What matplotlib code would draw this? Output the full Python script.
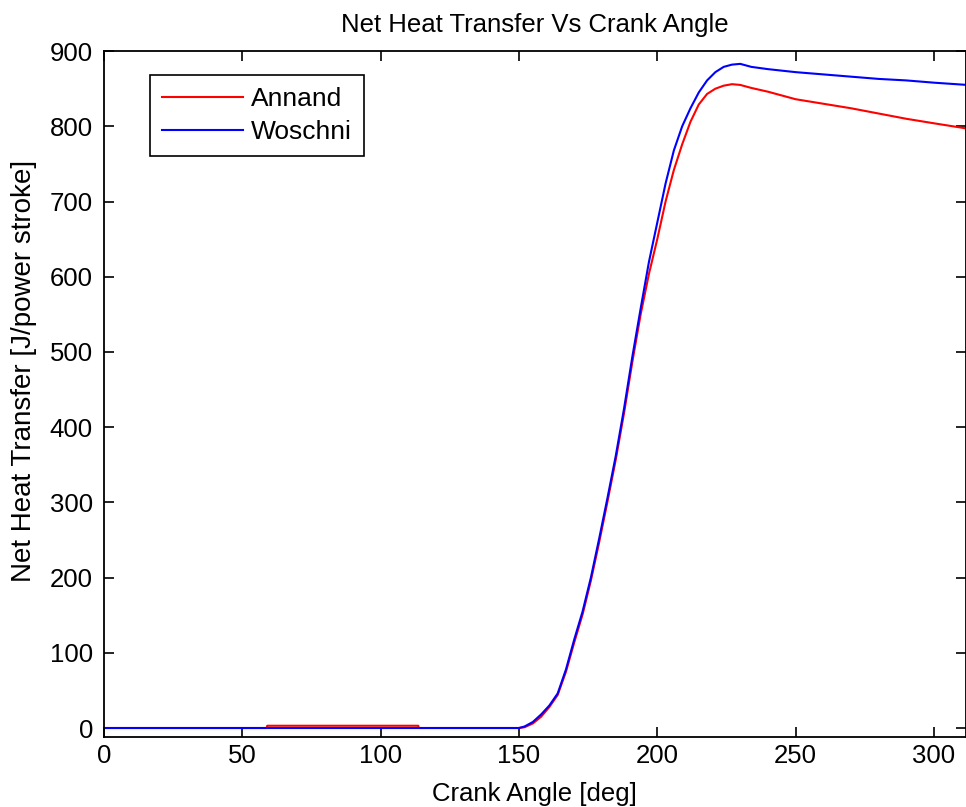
import matplotlib
matplotlib.use("Agg")
import matplotlib.pyplot as plt

# crank angle samples [deg]
crank = [0, 50, 58.8, 59, 113.6, 113.8, 150, 152, 155, 158, 161, 164, 167, 170,
         173, 176, 179, 182, 185, 188, 191, 194, 197, 200, 203, 206, 209, 212,
         215, 218, 221, 224, 227, 230, 234, 240, 250, 260, 270, 280, 290, 300, 312]

# net heat transfer [J/power stroke]
annand = [0, 0, 0, 3, 3, 0, 0, 1, 6, 15, 28, 44, 75, 114,
          151, 196, 247, 301, 357, 419, 487, 550, 604, 650, 700, 742, 776, 806,
          829, 843, 850, 854, 856, 855, 851, 846, 836, 830, 824, 817, 810, 804, 797]
woschni = [0, 0, 0, 0, 0, 0, 0, 2, 8, 18, 30, 46, 78, 118,
           155, 200, 252, 306, 362, 425, 494, 558, 620, 672, 724, 768, 800, 824,
           845, 861, 872, 879, 882, 883, 879, 876, 872, 869, 866, 863, 861, 858, 855]

plt.rcParams['font.family'] = ['Liberation Sans', 'DejaVu Sans']

fig = plt.figure(figsize=(9.66, 8.07), dpi=100)
ax = fig.add_axes([0.1077, 0.0867, 0.892, 0.850])

ax.plot(crank, annand, color='red', lw=1.5, label='Annand')
ax.plot(crank, woschni, color='blue', lw=1.5, label='Woschni')

ax.set_xlim(0, 311.5)
ax.set_ylim(-12, 900)
ax.set_xticks(range(0, 301, 50))
ax.set_yticks(range(0, 901, 100))
ax.tick_params(direction='in', length=7, width=1.2, top=True, right=True,
               labelsize=18.5, pad=5)
ax.tick_params(axis='y', pad=8)
for s in ax.spines.values():
    s.set_linewidth(1.3)

ax.set_title('Net Heat Transfer Vs Crank Angle', fontsize=18.5, pad=14)
ax.set_xlabel('Crank Angle [deg]', fontsize=18.5, labelpad=10)
ax.set_ylabel('Net Heat Transfer [J/power stroke]', fontsize=20)
ax.yaxis.set_label_coords(-0.078, 0.534)

leg = ax.legend(loc='upper left', bbox_to_anchor=(0.053, 0.965), borderaxespad=0,
                fontsize=19, fancybox=False, framealpha=1, handlelength=3.1,
                handletextpad=0.3, borderpad=0.45, labelspacing=0.35)
leg.get_frame().set_edgecolor('black')
leg.get_frame().set_linewidth(1.2)

fig.savefig('out.png', dpi=100)
